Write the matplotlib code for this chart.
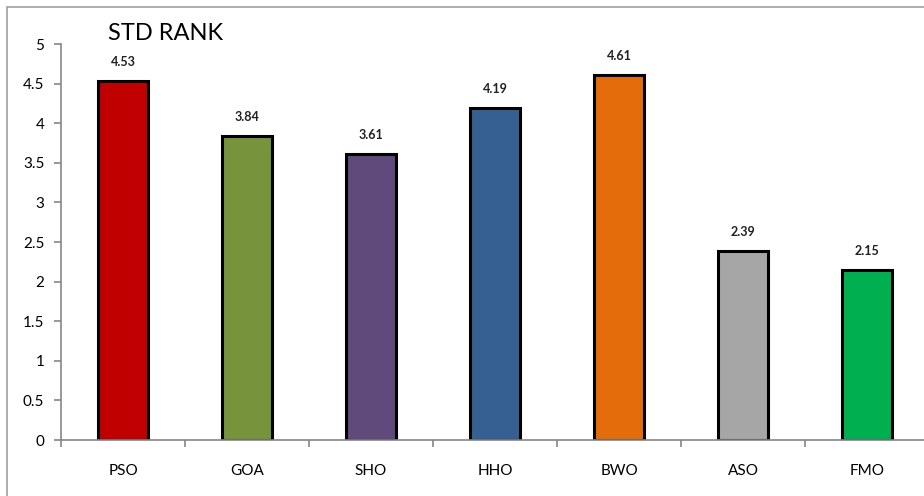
import matplotlib
matplotlib.use('Agg')
import matplotlib.pyplot as plt
from matplotlib.patches import Rectangle

plt.rcParams['font.family'] = ['Lato', 'DejaVu Sans']

# データ
algorithms = ['PSO', 'GOA', 'SHO', 'HHO', 'BWO', 'ASO', 'FMO']
std_rank = [4.53, 3.84, 3.61, 4.19, 4.61, 2.39, 2.15]
bar_colors = ['#C00000', '#77933C', '#604A7B', '#376092', '#E46C0A', '#A6A6A6', '#00B050']
y_ticks = [0, 0.5, 1, 1.5, 2, 2.5, 3, 3.5, 4, 4.5, 5]

fig = plt.figure(figsize=(9.24, 4.96), dpi=100)

# 外枠（右と下は画像の外まで続く）
fig.patches.append(Rectangle((7 / 924, -0.05), 1.1, 1 - 7 / 496 + 0.05,
                             transform=fig.transFigure, fill=False,
                             edgecolor='#A0A0A0', linewidth=1.2))

ax = fig.add_axes([61 / 924, 1 - 440 / 496, 868 / 924, 396 / 496])

x = range(len(algorithms))
ax.bar(x, std_rank, width=0.41, color=bar_colors, edgecolor='black', linewidth=2.2)

for i, v in enumerate(std_rank):
    ax.annotate(f'{v:.2f}', (i, v), xytext=(0, 13), textcoords='offset pixels',
                ha='center', va='bottom', fontsize=9, fontweight='bold', color='#202020')

ax.set_xlim(-0.5, len(algorithms) - 0.5)
ax.set_ylim(0, 5)
ax.set_yticks(y_ticks)
ax.set_yticklabels([f'{t:g}' for t in y_ticks])
ax.set_xticks(list(x))
ax.set_xticklabels(algorithms)
ax.set_xticks([i - 0.5 for i in range(len(algorithms) + 1)], minor=True)

ax.tick_params(axis='y', length=5, width=1.2, color='#868686', labelsize=11, pad=7)
ax.tick_params(axis='x', which='major', length=0, labelsize=11, pad=17)
ax.tick_params(axis='x', which='minor', length=5, width=1.2, color='#868686')

for side in ['top', 'right']:
    ax.spines[side].set_visible(False)
for side in ['left', 'bottom']:
    ax.spines[side].set_color('#868686')
    ax.spines[side].set_linewidth(1.2)

fig.text(108 / 924, 1 - 33 / 496, 'STD RANK', fontsize=17, va='center', ha='left')

fig.savefig('out.png', dpi=100)
